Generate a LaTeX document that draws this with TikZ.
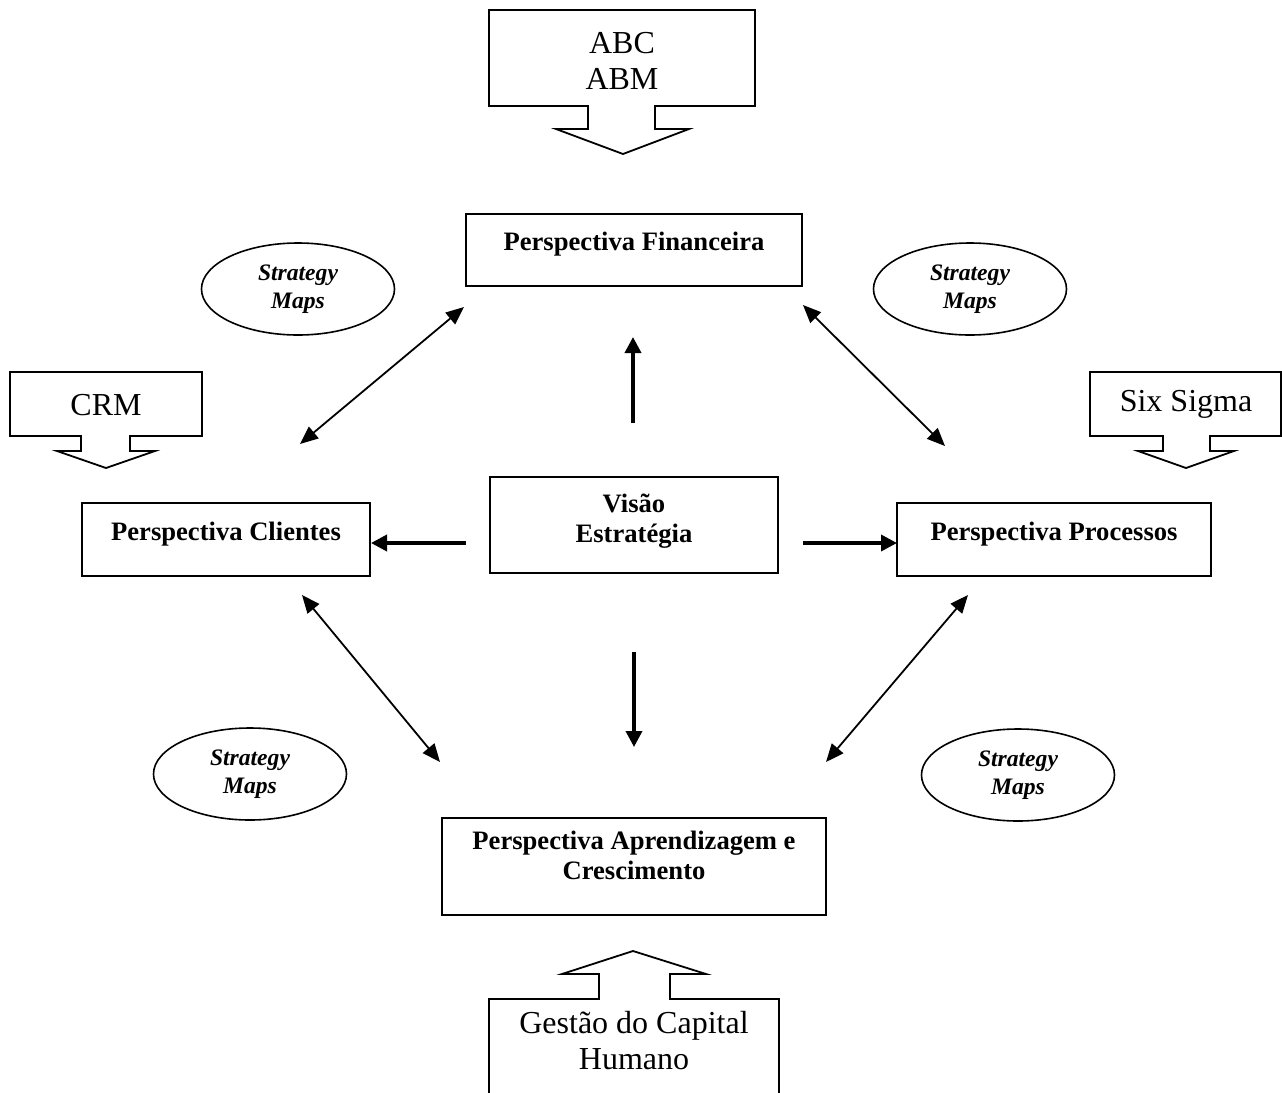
\documentclass[tikz,border=0pt]{standalone}
\usepackage{fontspec}
\setmainfont{Liberation Serif}
\usetikzlibrary{arrows.meta,shapes.geometric}
\begin{document}
\begin{tikzpicture}[x=0.5pt,y=-0.5pt,
  pbox/.style={draw,line width=0.9pt,rectangle,inner sep=0pt},
  ptext/.style={font=\fontsize{13.3}{15}\selectfont\bfseries,align=center,inner sep=0pt},
  ctext/.style={font=\fontsize{16}{18}\selectfont,align=center,inner sep=0pt},
  smap/.style={draw,ellipse,line width=0.8pt,minimum width=96.5pt,minimum height=46pt,inner sep=0pt,font=\fontsize{11.8}{14}\selectfont\bfseries\itshape,align=center},
  thickarr/.style={-{Triangle[length=8pt,width=8pt]},line width=1.8pt},
  dblarr/.style={{Triangle[length=9pt,width=7.5pt]}-{Triangle[length=9pt,width=7.5pt]},line width=0.9pt},
  callout/.style={draw,line width=0.9pt,line join=miter}
]
\useasboundingbox (0,0) rectangle (1282,1093);

% perspective boxes
\node[pbox,minimum width=168pt,minimum height=36pt] (fin) at (634,250) {};
\node[ptext] (fintxt) at (634,244) {Perspectiva Financeira};
\node[pbox,minimum width=144pt,minimum height=36.5pt] (cli) at (226,539.5) {};
\node[ptext] (clitxt) at (226,534) {Perspectiva Clientes};
\node[pbox,minimum width=157pt,minimum height=36.5pt] (pro) at (1054,539.5) {};
\node[ptext] (protxt) at (1054,534) {Perspectiva Processos};
\node[pbox,minimum width=144pt,minimum height=48pt] (vis) at (634,525) {};
\node[ptext] (vistxt) at (634,521) {Visão\\Estratégia};
\node[pbox,minimum width=192pt,minimum height=48.5pt] (apr) at (634,866.5) {};
\node[ptext] (aprtxt) at (634,855) {Perspectiva Aprendizagem e\\Crescimento};

% strategy maps
\node[smap] (smtl) at (298,289) {Strategy\\Maps};
\node[smap] (smtr) at (970,289) {Strategy\\Maps};
\node[smap] (smbl) at (250,774) {Strategy\\Maps};
\node[smap] (smbr) at (1018,775) {Strategy\\Maps};

% callouts
\draw[callout] (489,10) -- (755,10) -- (755,106) -- (655,106) -- (655,129) -- (689,129) -- (623,154) -- (556,129) -- (588,129) -- (588,106) -- (489,106) -- cycle;
\node[ctext] (abc) at (622,61) {ABC\\ABM};

\draw[callout] (10,372) -- (202,372) -- (202,436) -- (130,436) -- (130,451) -- (155,451) -- (106,468) -- (57,451) -- (81,451) -- (81,436) -- (10,436) -- cycle;
\node[ctext] (crm) at (106,405) {CRM};

\draw[callout] (1090,372) -- (1281,372) -- (1281,436) -- (1210,436) -- (1210,451) -- (1234,451) -- (1186,468) -- (1138,451) -- (1163,451) -- (1163,436) -- (1090,436) -- cycle;
\node[ctext] (six) at (1186,404) {Six Sigma};

\draw[callout] (489,1093) -- (489,999) -- (599,999) -- (599,974) -- (562,974) -- (633,951) -- (706,974) -- (670,974) -- (670,999) -- (779,999) -- (779,1093);
\node[ctext] (gch) at (634,1041) {Gestão do Capital\\Humano};

% connector end points
\coordinate (upA) at (633,423);  \coordinate (upB) at (633,337);
\coordinate (ltA) at (466,543);  \coordinate (ltB) at (371,543);
\coordinate (rtA) at (803,543);  \coordinate (rtB) at (897,543);
\coordinate (dnA) at (634,652);  \coordinate (dnB) at (634,747);
\coordinate (tlA) at (300,444);  \coordinate (tlB) at (464,307);
\coordinate (trA) at (803,305);  \coordinate (trB) at (945,446);
\coordinate (blA) at (302,595);  \coordinate (blB) at (440,762);
\coordinate (brA) at (968,595);  \coordinate (brB) at (826,762);

\draw[thickarr] (upA) -- (upB);
\draw[thickarr] (ltA) -- (ltB);
\draw[thickarr] (rtA) -- (rtB);
\draw[thickarr] (dnA) -- (dnB);
\draw[dblarr] (tlA) -- (tlB);
\draw[dblarr] (trA) -- (trB);
\draw[dblarr] (blA) -- (blB);
\draw[dblarr] (brA) -- (brB);
\end{tikzpicture}
\end{document}
